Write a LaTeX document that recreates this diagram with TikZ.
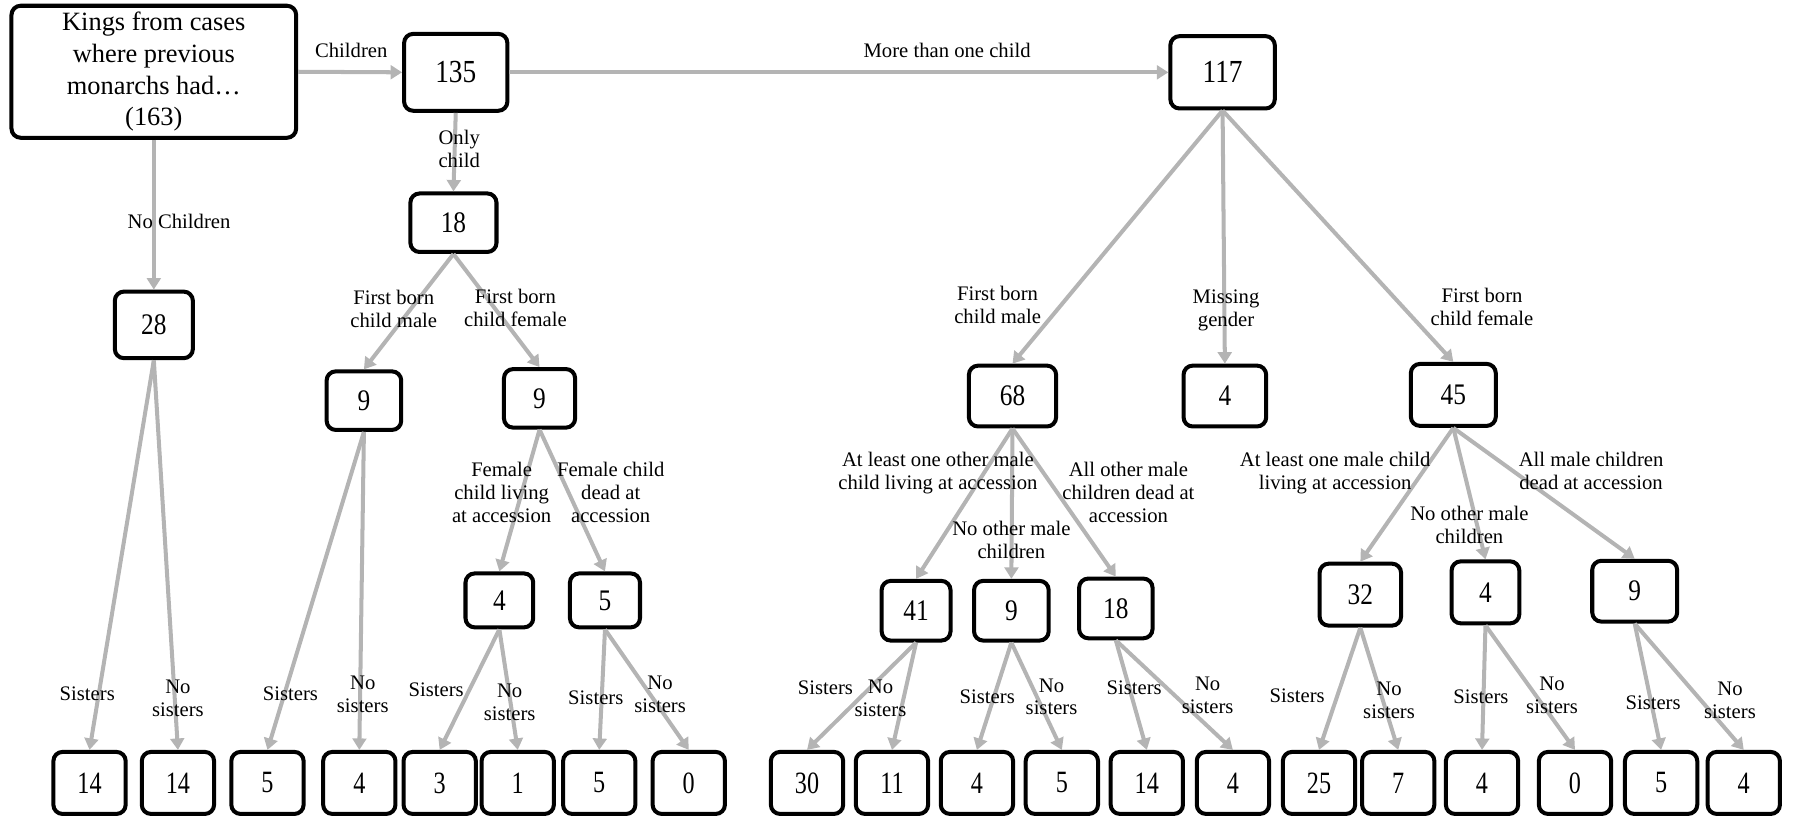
\documentclass[tikz,border=0pt]{standalone}
\usepackage{fontspec}
\setmainfont{Liberation Serif}
\newfontfamily\numfont{Liberation Serif}[FakeStretch=0.85]
\newfontfamily\leaffont{Liberation Serif}[FakeStretch=0.78]
\usetikzlibrary{arrows.meta}
\definecolor{lg}{RGB}{180,180,180}
\tikzset{
  box/.style 2 args={draw=black, line width=3.5pt, rounded corners=8pt, fill=white, inner sep=0pt,
    minimum width=#1pt, minimum height=#2pt, font=\numfont\fontsize{26}{30}\selectfont},
  leaf/.style={box={63}{54}, font=\leaffont\fontsize{27}{30}\selectfont},
  lbl/.style={font=\fontsize{18}{20}\selectfont, align=center, inner sep=0pt},
  arr/.style={draw=lg, line width=3.5pt, -{Triangle[length=10pt,width=12pt]}},
}
\begin{document}
\begin{tikzpicture}[x=1pt,y=-1pt]
\useasboundingbox (0,0) rectangle (1568,716);
% nodes
\node[box={248}{115}, align=center, font=\fontsize{23}{27.5}\selectfont] (root) at (134,62.5)
  {Kings from cases\\where previous\\monarchs had\dots\\(163)};
\node[box={90}{67}, font=\numfont\fontsize{28}{30}\selectfont] (n135) at (397,63) {135};
\node[box={91}{63}, font=\numfont\fontsize{28}{30}\selectfont] (n117) at (1065,63) {117};
\node[box={75}{51}] (n18) at (395,194) {18};
\node[box={68}{58}] (n28) at (134,283) {28};
\node[box={65}{51}] (n9m) at (317,349) {9};
\node[box={62}{51}] (n9f) at (470,347) {9};
\node[box={59}{47}] (n4a) at (435,523) {4};
\node[box={61}{47}] (n5a) at (527,523) {5};
\node[box={76}{53}] (n68) at (882,345) {68};
\node[box={72}{53}] (n4mg) at (1067,345) {4};
\node[box={74}{54}] (n45) at (1266,344) {45};
\node[box={60}{52}] (n41) at (798,532) {41};
\node[box={65}{52}] (n9b) at (881,532) {9};
\node[box={64}{52}] (n18b) at (972,530) {18};
\node[box={71}{54}] (n32) at (1185,518) {32};
\node[box={59}{54}] (n4b) at (1294,516) {4};
\node[box={74}{53}] (n9c) at (1424,515) {9};
% leaves
\node[leaf] (b1) at (78,682) {14};
\node[leaf] (b2) at (155,682) {14};
\node[leaf] (b3) at (233,682) {5};
\node[leaf] (b4) at (313,682) {4};
\node[leaf] (b5) at (383,682) {3};
\node[leaf] (b6) at (451,682) {1};
\node[leaf] (b7) at (522,682) {5};
\node[leaf] (b8) at (600,682) {0};
\node[leaf] (b9) at (703,682) {30};
\node[leaf] (b10) at (777,682) {11};
\node[leaf] (b11) at (851,682) {4};
\node[leaf] (b12) at (925,682) {5};
\node[leaf] (b13) at (999,682) {14};
\node[leaf] (b14) at (1074,682) {4};
\node[leaf] (b15) at (1149,682) {25};
\node[leaf] (b16) at (1218,682) {7};
\node[leaf] (b17) at (1291,682) {4};
\node[leaf] (b18) at (1372,682) {0};
\node[leaf] (b19) at (1447,682) {5};
\node[leaf] (b20) at (1519,682) {4};
% connectors
\draw[arr] (root.east) -- (n135.west);
\draw[arr] (n135.east) -- (n117.west);
\draw[arr] (root.south) -- (n28.north);
\draw[arr] (n135.south) -- (n18.north);
\draw[arr] (n18.south) -- (n9m.north);
\draw[arr] (n18.south) -- (n9f.north);
\draw[arr] (n28.south) -- (b1.north);
\draw[arr] (n28.south) -- (b2.north);
\draw[arr] (n9m.south) -- (b3.north);
\draw[arr] (n9m.south) -- (b4.north);
\draw[arr] (n9f.south) -- (n4a.north);
\draw[arr] (n9f.south) -- (n5a.north);
\draw[arr] (n4a.south) -- (b5.north);
\draw[arr] (n4a.south) -- (b6.north);
\draw[arr] (n5a.south) -- (b7.north);
\draw[arr] (n5a.south) -- (b8.north);
\draw[arr] (n117.south) -- (n68.north);
\draw[arr] (n117.south) -- (n4mg.north);
\draw[arr] (n117.south) -- (n45.north);
\draw[arr] (n68.south) -- (n41.north);
\draw[arr] (n68.south) -- (n9b.north);
\draw[arr] (n68.south) -- (n18b.north);
\draw[arr] (n45.south) -- (n32.north);
\draw[arr] (n45.south) -- (n4b.north);
\draw[arr] (n45.south) -- (n9c.north);
\draw[arr] (n41.south) -- (b9.north);
\draw[arr] (n41.south) -- (b10.north);
\draw[arr] (n9b.south) -- (b11.north);
\draw[arr] (n9b.south) -- (b12.north);
\draw[arr] (n18b.south) -- (b13.north);
\draw[arr] (n18b.south) -- (b14.north);
\draw[arr] (n32.south) -- (b15.north);
\draw[arr] (n32.south) -- (b16.north);
\draw[arr] (n4b.south) -- (b17.north);
\draw[arr] (n4b.south) -- (b18.north);
\draw[arr] (n9c.south) -- (b19.north);
\draw[arr] (n9c.south) -- (b20.north);
% labels
\node[lbl] (l1) at (306,44) {Children};
\node[lbl] (l2) at (825,44) {More than one child};
\node[lbl] (l3) at (400,130) {Only\\child};
\node[lbl] (l4) at (156,193) {No Children};
\node[lbl] (l5) at (343,269) {First born\\child male};
\node[lbl] (l6) at (449,268) {First born\\child female};
\node[lbl] (l7) at (437,429) {Female\\child living\\at accession};
\node[lbl] (l8) at (532,429) {Female child\\dead at\\accession};
\node[lbl] (l9) at (869,266) {First born\\child male};
\node[lbl] (l10) at (1068,270) {Missing\\gender};
\node[lbl] (l11) at (1291,267) {First born\\child female};
\node[lbl] (l12) at (817,412) {At least one other male\\child living at accession};
\node[lbl] (l13) at (881,470) {No other male\\children};
\node[lbl] (l14) at (983,429) {All other male\\children dead at\\accession};
\node[lbl] (l15) at (1163,412) {At least one male child\\living at accession};
\node[lbl] (l16) at (1280,457) {No other male\\children};
\node[lbl] (l17) at (1386,410) {All male children\\dead at accession};
% sisters labels
\node[lbl] (s1) at (76,604) {Sisters};
\node[lbl] (s2) at (155,608) {No\\sisters};
\node[lbl] (s3) at (253,604) {Sisters};
\node[lbl] (s4) at (316,605) {No\\sisters};
\node[lbl] (s5) at (380,601) {Sisters};
\node[lbl] (s6) at (444,612) {No\\sisters};
\node[lbl] (s7) at (519,608) {Sisters};
\node[lbl] (s8) at (575,605) {No\\sisters};
\node[lbl] (s9) at (719,599) {Sisters};
\node[lbl] (s10) at (767,608) {No\\sisters};
\node[lbl] (s11) at (860,607) {Sisters};
\node[lbl] (s12) at (916,607) {No\\sisters};
\node[lbl] (s13) at (988,599) {Sisters};
\node[lbl] (s14) at (1052,606) {No\\sisters};
\node[lbl] (s15) at (1130,606) {Sisters};
\node[lbl] (s16) at (1210,610) {No\\sisters};
\node[lbl] (s17) at (1290,607) {Sisters};
\node[lbl] (s18) at (1352,606) {No\\sisters};
\node[lbl] (s19) at (1440,612) {Sisters};
\node[lbl] (s20) at (1507,610) {No\\sisters};
\end{tikzpicture}
\end{document}
